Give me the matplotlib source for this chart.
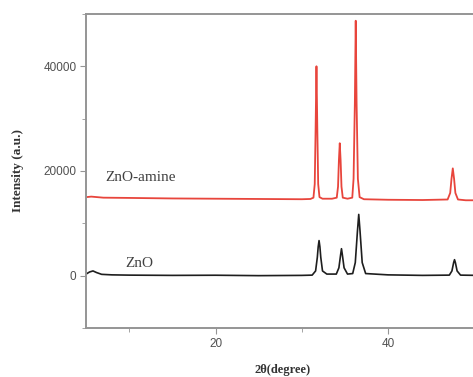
import matplotlib
matplotlib.use("Agg")
import matplotlib.pyplot as plt
from matplotlib.ticker import MultipleLocator

# XRD pattern (2theta in degree, intensity a.u.)
two_theta_amine = [5.0, 5.6, 7.0, 10.0, 15.0, 20.0, 25.0, 30.0, 31.0, 31.35,
                   31.5, 31.6, 31.7, 31.8, 31.9, 32.05, 32.4, 33.5, 34.05, 34.2,
                   34.3, 34.4, 34.5, 34.6, 34.75, 35.3, 35.85, 36.0, 36.15, 36.25,
                   36.35, 36.5, 36.7, 37.2, 40.0, 44.0, 46.9, 47.2, 47.35, 47.5,
                   47.65, 47.8, 48.1, 49.0, 50.5]
intensity_amine = [15000, 15100, 14900, 14850, 14750, 14700, 14650, 14600, 14650, 14900,
                   17500, 28000, 40000, 28000, 17500, 15000, 14700, 14700, 14900, 17000,
                   22000, 25300, 22000, 17000, 14900, 14700, 14900, 18500, 33000, 48700,
                   33000, 18500, 15000, 14600, 14500, 14450, 14550, 15800, 18500, 20500,
                   18500, 15800, 14550, 14400, 14400]

two_theta_zno = [5.0, 5.4, 5.8, 6.2, 6.8, 8.0, 10.0, 15.0, 20.0, 25.0,
                 30.0, 31.2, 31.6, 31.8, 31.9, 32.0, 32.1, 32.2, 32.4, 32.9,
                 34.0, 34.3, 34.5, 34.6, 34.7, 34.9, 35.3, 35.9, 36.2, 36.45,
                 36.6, 36.75, 37.0, 37.4, 40.0, 44.0, 47.1, 47.4, 47.6, 47.7,
                 47.8, 48.0, 48.4, 50.5]
intensity_zno = [300, 700, 900, 600, 250, 150, 100, 50, 80, 0,
                 50, 100, 900, 3500, 5500, 6700, 5500, 3500, 900, 300,
                 300, 1500, 4000, 5150, 4000, 1500, 300, 400, 2500, 8500,
                 11700, 8500, 2500, 400, 150, 50, 100, 900, 2500, 3050,
                 2500, 900, 100, 50]

SPINE = "#959595"

fig = plt.figure(figsize=(4.73, 3.77), dpi=100)
ax = fig.add_axes([0.182, 0.130, 0.830, 0.833])

ax.plot(two_theta_amine, intensity_amine, color="#e8453c", linewidth=1.3)
ax.plot(two_theta_zno, intensity_zno, color="#1e1e1e", linewidth=1.2)

ax.text(7.2, 18000, "ZnO-amine", family="Liberation Serif", fontsize=11, color="#404040")
ax.text(9.6, 1700, "ZnO", family="Liberation Serif", fontsize=11, color="#404040")

ax.set_xlim(5, 50.5)
ax.set_ylim(-10000, 50000)
ax.xaxis.set_major_locator(MultipleLocator(20))
ax.xaxis.set_minor_locator(MultipleLocator(10))
ax.yaxis.set_major_locator(MultipleLocator(20000))
ax.yaxis.set_minor_locator(MultipleLocator(10000))

for side in ("left", "bottom", "top", "right"):
    ax.spines[side].set_color(SPINE)
    ax.spines[side].set_linewidth(1.4)
ax.tick_params(which="both", direction="out", color=SPINE, labelcolor="#505050",
               labelsize=8.5, right=False, top=False)
ax.tick_params(which="major", length=4, pad=3)
ax.tick_params(which="minor", length=3)
for lbl in ax.get_xticklabels() + ax.get_yticklabels():
    lbl.set_family("Liberation Sans")

ax.set_xlabel("2θ(degree)", family="Liberation Serif", fontweight="bold",
              fontsize=9, color="#333333", labelpad=10)
ax.set_ylabel("Intensity (a.u.)", family="Liberation Serif", fontweight="bold",
              fontsize=9.5, color="#333333", labelpad=14)

fig.savefig("out.png", dpi=100)
